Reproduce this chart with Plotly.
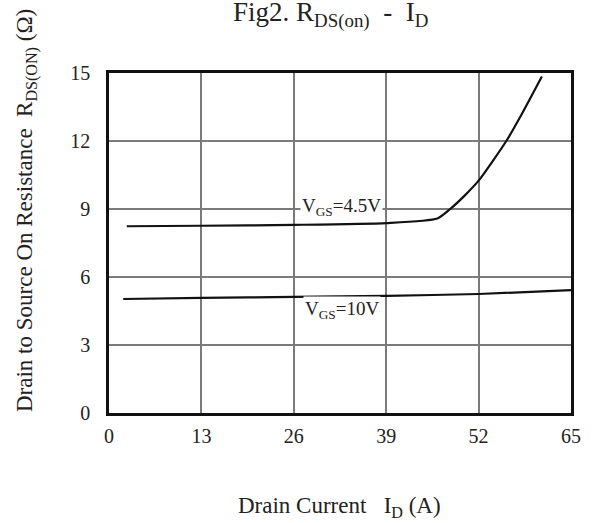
import plotly.graph_objects as go

# Data
id_45 = [2.5, 13, 26, 39, 46.2, 48.0, 50.0, 52.0, 55.9, 58.0, 60.9]
r_45 = [8.24, 8.26, 8.30, 8.38, 8.58, 9.0, 9.58, 10.25, 12.0, 13.15, 14.85]
id_10 = [2.0, 13, 26, 39, 52, 65]
r_10 = [5.03, 5.08, 5.12, 5.17, 5.25, 5.42]
x_ticks = [0, 13, 26, 39, 52, 65]
y_ticks = [0, 3, 6, 9, 12, 15]

W, H = 596, 523
L, R, T, B = 109, 25, 73, 110
PW, PH = W - L - R, H - T - B


def px(xp):
    return (xp - L) / PW


def py(yp):
    return (H - B - yp) / PH


FONT = "Liberation Serif"

fig = go.Figure()
for xs, ys in [(id_45, r_45), (id_10, r_10)]:
    fig.add_trace(go.Scatter(x=xs, y=ys, mode="lines",
                             line=dict(color="#111", width=2.2, shape="spline", smoothing=0.6),
                             showlegend=False, hoverinfo="skip"))

fig.update_layout(
    width=W, height=H,
    margin=dict(l=L, r=R, t=T, b=B),
    paper_bgcolor="white", plot_bgcolor="white",
    font=dict(family=FONT, color="#222", size=20),
    xaxis=dict(range=[0, 65], tickvals=x_ticks, showgrid=True, gridcolor="#7a7a7a", gridwidth=1.5,
               showline=True, linecolor="#111", linewidth=2.5, mirror=True, zeroline=False,
               ticks="", ticklabelstandoff=3, tickfont=dict(size=20, family=FONT)),
    yaxis=dict(range=[0, 15], tickvals=y_ticks, showgrid=True, gridcolor="#7a7a7a", gridwidth=1.5,
               showline=True, linecolor="#111", linewidth=2.5, mirror=True, zeroline=False,
               ticks="", ticklabelstandoff=12, tickfont=dict(size=20, family=FONT)),
    annotations=[
        dict(text="Fig2. R<sub>DS(on)</sub>  -  I<sub>D</sub>", x=px(330), y=py(15),
             xref="paper", yref="paper", showarrow=False, font=dict(size=27, family=FONT),
             xanchor="center", yanchor="middle"),
        dict(text="Drain to Source On Resistance  R<sub>DS(ON)</sub> (\u03a9)", x=px(26), y=py(211),
             xref="paper", yref="paper", showarrow=False, textangle=-90,
             font=dict(size=23, family=FONT), xanchor="center", yanchor="middle"),
        dict(text="Drain Current   I<sub>D</sub> (A)", x=px(339), y=py(507),
             xref="paper", yref="paper", showarrow=False,
             font=dict(size=23, family=FONT), xanchor="center", yanchor="middle"),
        dict(text="V<sub>GS</sub>=4.5V", x=px(341), y=py(207),
             xref="paper", yref="paper", showarrow=False, bgcolor="white",
             font=dict(size=19, family=FONT), xanchor="center", yanchor="middle"),
        dict(text="V<sub>GS</sub>=10V", x=px(342), y=py(310),
             xref="paper", yref="paper", showarrow=False, bgcolor="white",
             font=dict(size=19, family=FONT), xanchor="center", yanchor="middle"),
    ],
)

fig.write_html("out.html")
